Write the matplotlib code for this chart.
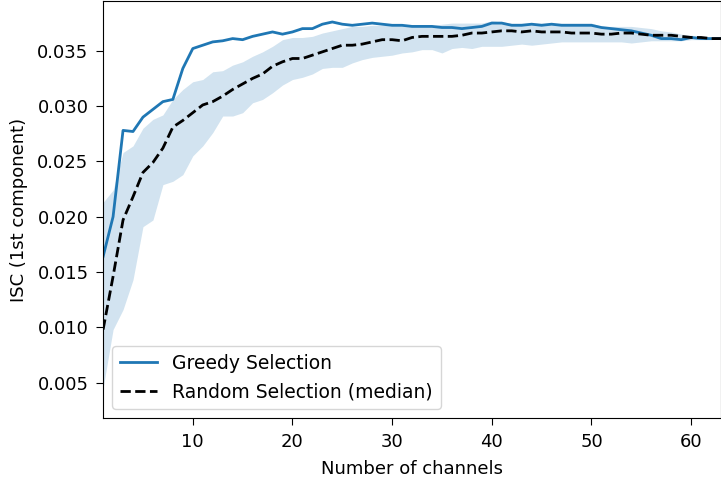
import numpy as np
import matplotlib.pyplot as plt

# number of channels 1..63
channels = np.arange(1, 64)

greedy = [0.0164, 0.0200, 0.0278, 0.0277, 0.0290, 0.0297, 0.0304, 0.0306, 0.0334, 0.0352,
          0.0355, 0.0358, 0.0359, 0.0361, 0.0360, 0.0363, 0.0365, 0.0367, 0.0365, 0.0367,
          0.0370, 0.0370, 0.0374, 0.0376, 0.0374, 0.0373, 0.0374, 0.0375, 0.0374, 0.0373,
          0.0373, 0.0372, 0.0372, 0.0372, 0.0371, 0.0371, 0.0370, 0.0371, 0.0372, 0.0375,
          0.0375, 0.0373, 0.0373, 0.0374, 0.0373, 0.0374, 0.0373, 0.0373, 0.0373, 0.0373,
          0.0371, 0.0370, 0.0369, 0.0368, 0.0366, 0.0364, 0.0361, 0.0361, 0.0360, 0.0362,
          0.0361, 0.0361, 0.0361]

random_median = [0.0098, 0.0146, 0.0197, 0.0218, 0.0240, 0.0249, 0.0262, 0.0281, 0.0287, 0.0294,
                 0.0301, 0.0304, 0.0309, 0.0315, 0.0320, 0.0325, 0.0329, 0.0336, 0.0340, 0.0343,
                 0.0343, 0.0346, 0.0349, 0.0352, 0.0355, 0.0355, 0.0356, 0.0358, 0.0360, 0.0360,
                 0.0359, 0.0362, 0.0363, 0.0363, 0.0363, 0.0363, 0.0364, 0.0366, 0.0366, 0.0367,
                 0.0368, 0.0368, 0.0367, 0.0368, 0.0367, 0.0367, 0.0367, 0.0366, 0.0366, 0.0366,
                 0.0365, 0.0365, 0.0366, 0.0366, 0.0365, 0.0364, 0.0364, 0.0364, 0.0363, 0.0362,
                 0.0362, 0.0361, 0.0361]

random_upper = [0.0213, 0.0224, 0.0258, 0.0264, 0.0280, 0.0288, 0.0292, 0.0306, 0.0315, 0.0322,
                0.0324, 0.0331, 0.0332, 0.0337, 0.0340, 0.0345, 0.0349, 0.0354, 0.0360, 0.0362,
                0.0362, 0.0363, 0.0366, 0.0368, 0.0370, 0.0372, 0.0372, 0.0373, 0.0373, 0.0373,
                0.0373, 0.0373, 0.0373, 0.0373, 0.0374, 0.0375, 0.0375, 0.0375, 0.0375, 0.0377,
                0.0376, 0.0375, 0.0375, 0.0375, 0.0375, 0.0375, 0.0375, 0.0375, 0.0375, 0.0375,
                0.0372, 0.0372, 0.0372, 0.0372, 0.0371, 0.0370, 0.0368, 0.0367, 0.0365, 0.0364,
                0.0363, 0.0362, 0.0361]

random_lower = [0.0045, 0.0098, 0.0116, 0.0143, 0.0191, 0.0197, 0.0229, 0.0232, 0.0238, 0.0255,
                0.0264, 0.0276, 0.0291, 0.0291, 0.0294, 0.0303, 0.0306, 0.0312, 0.0319, 0.0324,
                0.0326, 0.0329, 0.0334, 0.0335, 0.0335, 0.0339, 0.0342, 0.0344, 0.0345, 0.0346,
                0.0348, 0.0349, 0.0351, 0.0351, 0.0348, 0.0352, 0.0353, 0.0352, 0.0354, 0.0354,
                0.0354, 0.0355, 0.0356, 0.0355, 0.0356, 0.0357, 0.0358, 0.0358, 0.0358, 0.0358,
                0.0358, 0.0358, 0.0358, 0.0357, 0.0358, 0.0359, 0.0359, 0.0359, 0.0359, 0.0360,
                0.0360, 0.0360, 0.0361]

plt.rcParams['font.size'] = 13

fig = plt.figure(figsize=(7.21, 4.8), dpi=100)
ax = fig.add_axes([0.143, 0.129, 0.857, 0.869])

ax.fill_between(channels, random_lower, random_upper, color='C0', alpha=0.2, linewidth=0)
ax.plot(channels, greedy, color='C0', lw=2, label='Greedy Selection')
ax.plot(channels, random_median, 'k--', lw=2, label='Random Selection (median)')

ax.set_xlim(1, 63)
ax.set_ylim(0.0018, 0.0395)
ax.tick_params(length=5, pad=5.5)
ax.set_xlabel('Number of channels', labelpad=7)
ax.set_ylabel('ISC (1st component)', labelpad=7)
ax.legend(loc='lower left', fontsize=13.5)

fig.savefig('out.png', dpi=100)
